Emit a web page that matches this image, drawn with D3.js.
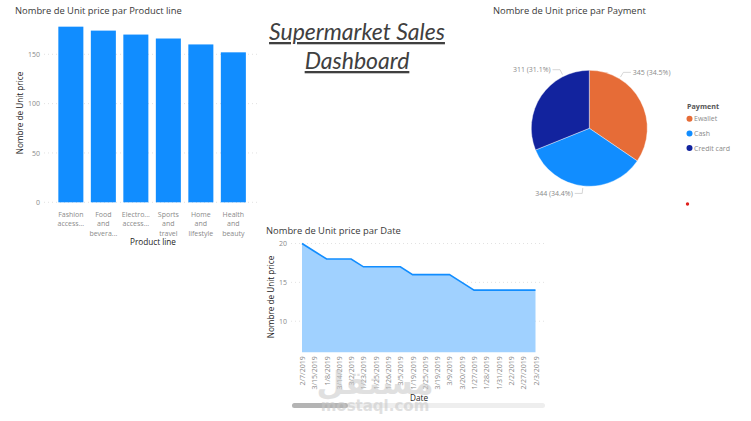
<!DOCTYPE html>
<html>
<head>
<meta charset="utf-8">
<script src="https://d3js.org/d3.v7.min.js"></script>
<style>
  html, body { margin: 0; padding: 0; background: #fff; }
  svg { display: block; }
  text { font-family: "Open Sans", sans-serif; }
  .title { font-size: 9.4px; fill: #3a3a3a; }
  .axis-title { font-size: 8.2px; fill: #252423; }
  .tick-label { font-size: 7px; fill: #8a8a8a; }
  .axis .domain, .axis .tick line { display: none; }
  .grid line { stroke: #e2e2e2; stroke-dasharray: 1 3; }
</style>
</head>
<body>
<div id="container"></div>
<script>
// bar chart: product lines
const productLines = ["Fashion\naccess...", "Food\nand\nbevera...", "Electro...\naccess...", "Sports\nand\ntravel", "Home\nand\nlifestyle", "Health\nand\nbeauty"];
const productCounts = [178, 174, 170, 166, 160, 152];
const productTicks = [0, 50, 100, 150];

// pie chart: payment
const payments = ["Ewallet", "Cash", "Credit card"];
const paymentCounts = [345, 344, 311];
const paymentLabels = ["345 (34.5%)", "344 (34.4%)", "311 (31.1%)"];
const paymentColors = ["#E66C37", "#118DFF", "#12239E"];

// area chart: dates
const dates = ["2/7/2019", "3/15/2019", "1/8/2019", "3/14/2019", "3/2/2019", "1/23/2019", "1/25/2019", "1/26/2019", "3/5/2019", "1/19/2019", "2/25/2019", "3/19/2019", "3/9/2019", "3/20/2019", "1/27/2019", "1/28/2019", "1/31/2019", "2/2/2019", "2/27/2019", "2/3/2019"];
const dateCounts = [20, 19, 18, 18, 18, 17, 17, 17, 17, 16, 16, 16, 16, 15, 14, 14, 14, 14, 14, 14];
const dateTicks = [10, 15, 20];

const width = 751, height = 421;
const svg = d3.select("#container").append("svg")
  .attr("width", width).attr("height", height);

// dashboard title
const heading = svg.append("g").attr("text-anchor", "middle")
  .style("font-style", "italic").attr("fill", "#404040");
["Supermarket Sales", "Dashboard"].forEach((t, i) => {
  heading.append("text").attr("x", 357).attr("y", 40 + i * 29)
    .style("font-family", "Lato").style("font-size", "23px")
    .style("text-decoration", "underline").text(t);
});

// --- bar chart ---
const barX = d3.scaleBand().domain(productLines).range([54.6, 249.6]).paddingInner(0.23).paddingOuter(0.115);
const barY = d3.scaleLinear().domain([0, 150]).range([202.3, 54.3]);

const barGrid = svg.append("g").attr("class", "grid");
barGrid.selectAll("line").data(productTicks).enter().append("line")
  .attr("x1", 44).attr("x2", 260).attr("y1", d => barY(d)).attr("y2", d => barY(d));

svg.append("g").selectAll("rect").data(productCounts).enter().append("rect")
  .attr("x", (d, i) => barX(productLines[i]))
  .attr("y", d => barY(d))
  .attr("width", barX.bandwidth())
  .attr("height", d => barY(0) - barY(d))
  .attr("fill", "#118DFF");

const barYAxis = svg.append("g").attr("class", "axis").attr("transform", "translate(40,0)")
  .call(d3.axisLeft(barY).tickValues(productTicks).tickSize(0).tickPadding(0));
barYAxis.selectAll("text").attr("class", "tick-label");

const barXAxis = svg.append("g").attr("class", "axis").attr("transform", "translate(0,202.3)")
  .call(d3.axisBottom(barX).tickSize(0).tickPadding(0));
barXAxis.selectAll("text").attr("class", "tick-label").attr("dy", 0).each(function (d) {
  const el = d3.select(this).text(null);
  d.split("\n").forEach((part, i) => {
    el.append("tspan").attr("x", 0).attr("y", 14.5 + i * 9.6).text(part);
  });
});

svg.append("text").attr("class", "title").attr("x", 15).attr("y", 14).text("Nombre de Unit price par Product line");
svg.append("text").attr("class", "axis-title").attr("x", 153).attr("y", 245).attr("text-anchor", "middle").text("Product line");
svg.append("text").attr("class", "axis-title").attr("text-anchor", "middle")
  .attr("transform", "translate(23,113) rotate(-90)").text("Nombre de Unit price");

// --- pie chart ---
const pieCx = 589.3, pieCy = 128.3, pieR = 58;
const pie = d3.pie().sort(null)(paymentCounts);
const arc = d3.arc().innerRadius(0).outerRadius(pieR);
const pieG = svg.append("g").attr("transform", `translate(${pieCx},${pieCy})`);
pieG.selectAll("path").data(pie).enter().append("path")
  .attr("d", arc)
  .attr("fill", (d, i) => paymentColors[i])
  .attr("stroke", "#fff").attr("stroke-width", 0.4);

// leader lines, placement (not at slice mid angle)
const labelAngles = [0.547, 3.25, 5.82];
const labelSide = [1, -1, -1];
labelAngles.forEach((a, i) => {
  const p0 = [Math.sin(a) * (pieR + 2), -Math.cos(a) * (pieR + 2)];
  const p1 = [Math.sin(a) * (pieR + 7.5), -Math.cos(a) * (pieR + 7.5)];
  const p2 = [p1[0] + labelSide[i] * 7.5, p1[1]];
  pieG.append("polyline").attr("points", [p0, p1, p2].join(" "))
    .attr("fill", "none").attr("stroke", "#c4c4c4").attr("stroke-width", 0.7);
  pieG.append("text").attr("class", "tick-label")
    .attr("x", p2[0] + labelSide[i] * 2).attr("y", p2[1] + 2.5)
    .attr("text-anchor", labelSide[i] > 0 ? "start" : "end").text(paymentLabels[i]);
});

svg.append("text").attr("class", "title").attr("x", 493).attr("y", 14).text("Nombre de Unit price par Payment");

svg.append("text").attr("x", 687).attr("y", 108.7).style("font-size", "7.2px").style("font-weight", "bold")
  .attr("fill", "#555").text("Payment");
const legend = svg.append("g").selectAll("g").data(payments).enter().append("g")
  .attr("transform", (d, i) => `translate(689.5,${118.7 + i * 14.7})`);
legend.append("circle").attr("r", 3).attr("fill", (d, i) => paymentColors[i]);
legend.append("text").attr("class", "tick-label").attr("x", 4.5).attr("y", 2.5).text(d => d);

// stray red dot from the source picture
svg.append("circle").attr("cx", 687.5).attr("cy", 204).attr("r", 1.7).attr("fill", "#e0201c");

// --- area chart ---
const lineX = d3.scalePoint().domain(dates).range([302, 535.5]);
const lineY = d3.scaleLinear().domain([6, 20]).range([352.3, 243.5]);

const lineGrid = svg.append("g").attr("class", "grid");
lineGrid.selectAll("line").data(dateTicks).enter().append("line")
  .attr("x1", 291).attr("x2", 544).attr("y1", d => lineY(d)).attr("y2", d => lineY(d));

const area = d3.area().x((d, i) => lineX(dates[i])).y0(lineY(6)).y1(d => lineY(d));
const line = d3.line().x((d, i) => lineX(dates[i])).y(d => lineY(d));
svg.append("path").attr("d", area(dateCounts)).attr("fill", "#A0D1FF");
svg.append("path").attr("d", line(dateCounts)).attr("fill", "none").attr("stroke", "#118DFF").attr("stroke-width", 1.6);

const lineYAxis = svg.append("g").attr("class", "axis").attr("transform", "translate(287,0)")
  .call(d3.axisLeft(lineY).tickValues(dateTicks).tickSize(0).tickPadding(0));
lineYAxis.selectAll("text").attr("class", "tick-label");

const lineXAxis = svg.append("g").attr("class", "axis").attr("transform", "translate(0,352.3)")
  .call(d3.axisBottom(lineX).tickSize(0).tickPadding(0));
lineXAxis.selectAll("text").attr("class", "tick-label")
  .attr("text-anchor", "end").attr("dy", 0)
  .attr("transform", "translate(2.5,4) rotate(-90)")
  .attr("x", 0).attr("y", 0);

svg.append("text").attr("class", "title").attr("x", 266).attr("y", 234).text("Nombre de Unit price par Date");
svg.append("text").attr("class", "axis-title").attr("x", 419).attr("y", 401).attr("text-anchor", "middle").text("Date");
svg.append("text").attr("class", "axis-title").attr("text-anchor", "middle")
  .attr("transform", "translate(274,297) rotate(-90)").text("Nombre de Unit price");

// scrollbar of the date axis
svg.append("rect").attr("x", 292).attr("y", 403).attr("width", 253).attr("height", 5).attr("rx", 2.5).attr("fill", "#eee");
svg.append("rect").attr("x", 292).attr("y", 403).attr("width", 56).attr("height", 5).attr("rx", 2.5).attr("fill", "#b4b4b4");

// watermark sits over the chart, semi transparent
const mark = svg.append("g").attr("text-anchor", "middle").attr("fill", "#c8c8c8").attr("opacity", 0.55)
  .style("font-weight", "bold");
mark.append("text").attr("x", 375).attr("y", 394)
  .style("font-family", "DejaVu Sans").style("font-size", "32px").text("مستقل");
mark.append("text").attr("x", 375).attr("y", 411)
  .style("font-family", "DejaVu Sans").style("font-size", "15px").text("mostaql.com");
</script>
</body>
</html>
